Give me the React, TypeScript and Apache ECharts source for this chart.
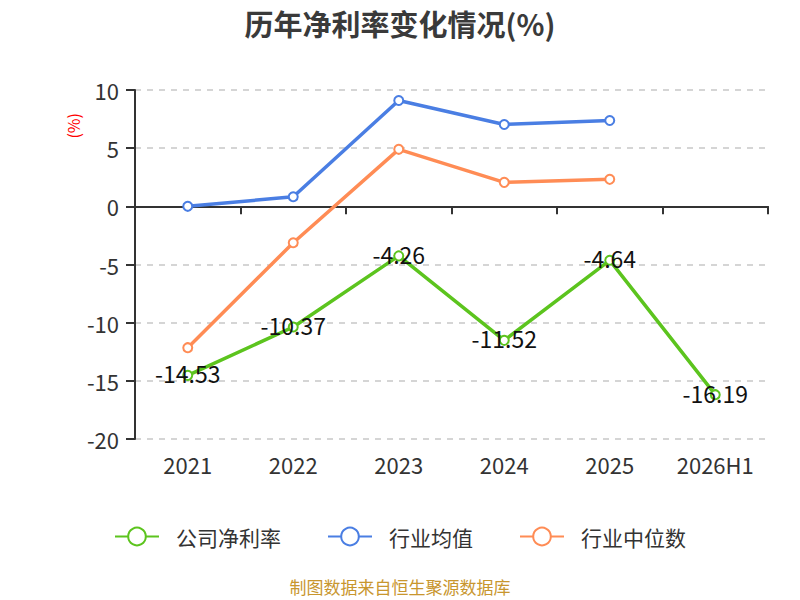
import React, { useEffect, useRef } from "react";
import * as echarts from "echarts";

const categories = ["2021", "2022", "2023", "2024", "2025", "2026H1"];
const companyRate = [-14.53, -10.37, -4.26, -11.52, -4.64, -16.19];
const industryAvg = [0.0, 0.82, 9.1, 7.04, 7.38, null];
const industryMedian = [-12.15, -3.13, 4.9, 2.06, 2.32, null];
const seriesNames = ["公司净利率", "行业均值", "行业中位数"];
const colors = ["#5cc41e", "#4a7ee3", "#ff8c55"];

const FONT = "'Noto Sans CJK SC', 'Noto Sans', sans-serif";

export default function App() {
  const ref = useRef<HTMLDivElement>(null);
  useEffect(() => {
    document.body.style.margin = "0";
    if (!ref.current) return;
    const chart = echarts.init(ref.current, null, { renderer: "svg" });
    const mkSeries = (i: number, data: (number | null)[], label: boolean) => ({
      name: seriesNames[i],
      type: "line",
      data,
      symbol: "emptyCircle",
      symbolSize: 9,
      showAllSymbol: true,
      z: label ? 3 : 2,
      lineStyle: { width: 3.5, color: colors[i] },
      itemStyle: { color: colors[i], borderWidth: 1.5 },
      label: label
        ? {
            show: true,
            position: "inside",
            offset: [0, -2],
            fontSize: 23,
            color: "#111",
            fontFamily: FONT,
          }
        : { show: false },
    });
    chart.setOption({
      animation: false,
      textStyle: { fontFamily: FONT },
      title: {
        text: "历年净利率变化情况(%)",
        left: "center",
        top: 3,
        textStyle: { fontSize: 29, fontWeight: "bold", color: "#3a3a3a", fontFamily: FONT },
      },
      grid: { left: 135, right: 32, top: 90, bottom: 161 },
      legend: {
        bottom: 48,
        left: "center",
        itemWidth: 44,
        itemHeight: 22,
        itemGap: 46,
        textStyle: { fontSize: 21, color: "#333", fontFamily: FONT, padding: [0, 0, 0, 12] },
        data: seriesNames,
      },
      graphic: [
        {
          type: "text",
          left: 65,
          top: 113,
          rotation: Math.PI / 2,
          style: { text: "(%)", fill: "#ff0000", fontSize: 16, fontFamily: FONT },
        },
        {
          type: "text",
          left: "center",
          top: 578,
          style: { text: "制图数据来自恒生聚源数据库", fill: "#c8962e", fontSize: 17, fontFamily: FONT },
        },
      ],
      xAxis: [
        {
          type: "category",
          data: categories,
          boundaryGap: true,
          position: "bottom",
          axisLine: { show: false, onZero: false },
          axisTick: { show: false },
          axisLabel: { fontSize: 22, color: "#333", margin: 14, fontFamily: FONT },
        },
        {
          type: "category",
          data: categories,
          boundaryGap: true,
          position: "bottom",
          axisLine: { show: true, onZero: true, lineStyle: { color: "#333", width: 2 } },
          axisTick: { show: true, length: 8, lineStyle: { color: "#333", width: 2 } },
          axisLabel: { show: false },
        },
      ],
      yAxis: {
        type: "value",
        min: -20,
        max: 10,
        interval: 5,
        axisLine: { show: true, lineStyle: { color: "#333", width: 2 } },
        axisTick: { show: true, length: 9, lineStyle: { color: "#333", width: 2 } },
        axisLabel: { fontSize: 22, color: "#333", margin: 16, fontFamily: FONT },
        splitLine: { lineStyle: { type: [6, 6], color: "#c8c8c8", width: 1.5 } },
      },
      series: [
        mkSeries(0, companyRate, true),
        mkSeries(1, industryAvg, false),
        mkSeries(2, industryMedian, false),
      ],
    });
    return () => chart.dispose();
  }, []);
  return <div ref={ref} style={{ width: 800, height: 600 }} />;
}
